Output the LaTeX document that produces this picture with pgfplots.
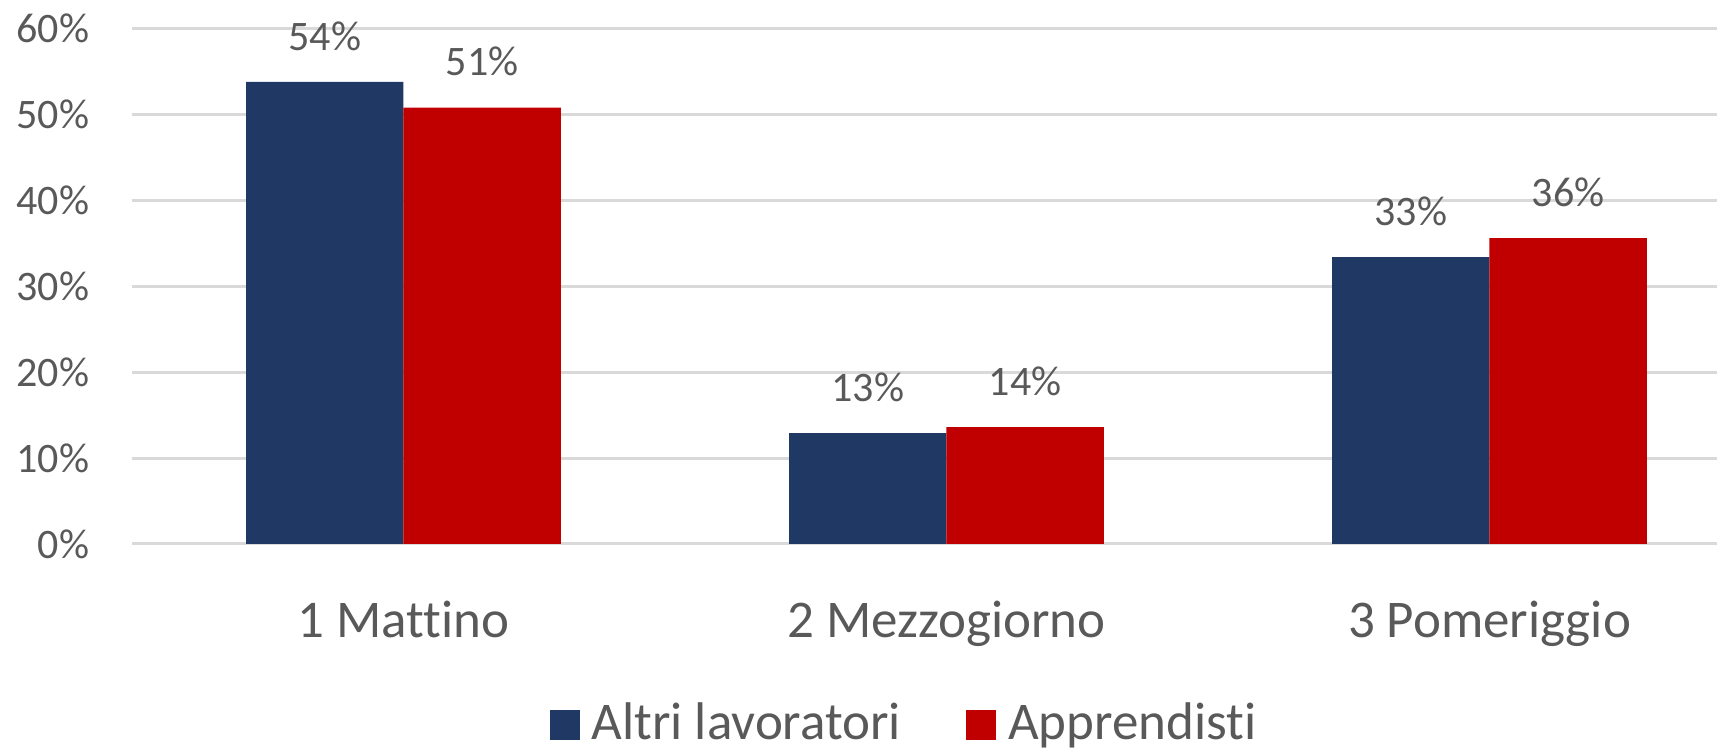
\documentclass[border=0pt]{standalone}
\usepackage{fontspec}
\setmainfont{Carlito}[Ligatures=NoCommon]
\usepackage{pgfplots}
\pgfplotsset{compat=1.18}
\definecolor{barblue}{HTML}{203864}
\definecolor{barred}{HTML}{C00000}
\definecolor{txtgray}{HTML}{595959}
\definecolor{gridgray}{HTML}{D9D9D9}
\begin{document}
\begin{tikzpicture}
\useasboundingbox (-33pt,-51.5pt) rectangle (396.25pt,136pt);
\begin{axis}[
    scale only axis,
    width=396.25pt, height=128.875pt,
    at={(0,0)}, anchor=south west,
    xmin=-0.5, xmax=2.419,
    ymin=0, ymax=60,
    clip=false,
    ybar=0pt,
    bar width=0.29,
    axis line style={draw=none},
    major tick length=0pt,
    xtick={0,1,2},
    xticklabels={1 Mattino, 2 Mezzogiorno, 3 Pomeriggio},
    ytick={0,10,...,60},
    yticklabel={\pgfmathprintnumber{\tick}\%},
    /pgf/number format/assume math mode=true,
    ymajorgrids,
    grid style={gridgray, line width=0.75pt},
    tick label style={text=txtgray, inner sep=0pt},
    yticklabel style={font=\fontsize{10.5}{12}\selectfont, xshift=-10.5pt},
    xticklabel style={font=\fontsize{13.25}{15}\selectfont, yshift=-14pt},
    nodes near coords={\pgfmathprintnumber[fixed,precision=0]{\pgfplotspointmeta}\%},
    nodes near coords style={font=\fontsize{10.5}{12}\selectfont, text=txtgray, inner sep=0pt, anchor=south, yshift=7.65pt},
    legend columns=2,
    legend style={draw=none, fill=none, at={(0.4865,-0.350)}, anchor=center,
        font=\fontsize{13.25}{15}\selectfont, text=txtgray,
        nodes={inner sep=0pt},
        /tikz/every odd column/.append style={column sep=3pt},
        /tikz/every even column/.append style={column sep=16.25pt}},
    legend image code/.code={\fill[#1] (0pt,-4pt) rectangle (7.5pt,3.5pt);},
]
\addplot[fill=barblue, draw=none, bar shift=-0.145] coordinates {(0,53.8) (1,12.9) (2,33.4)};
\addlegendentry{Altri lavoratori}
\addplot[fill=barred, draw=none, bar shift=0.145] coordinates {(0,50.8) (1,13.6) (2,35.6)};
\addlegendentry{Apprendisti}
\end{axis}
\end{tikzpicture}
\end{document}
